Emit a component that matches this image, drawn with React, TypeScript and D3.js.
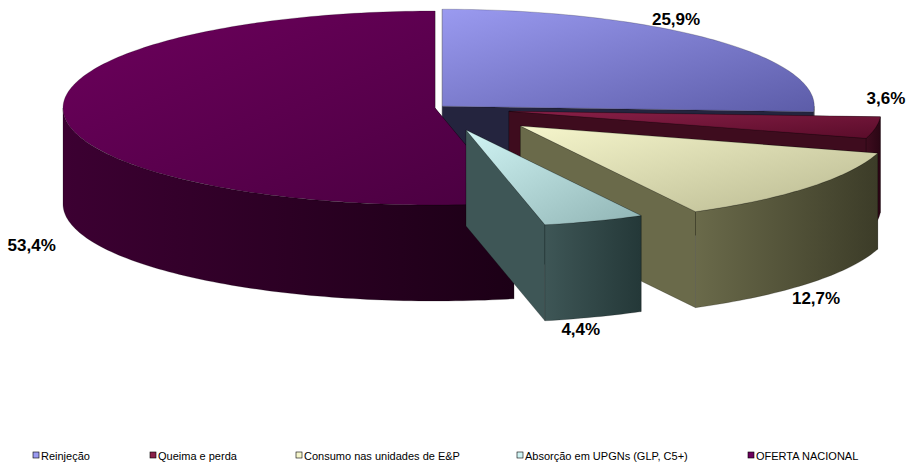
import React from 'react';
import * as d3 from 'd3';

const categories = ['Reinjeção', 'Queima e perda', 'Consumo nas unidades de E&P', 'Absorção em UPGNs (GLP, C5+)', 'OFERTA NACIONAL'];
const values = [25.9, 3.6, 12.7, 4.4, 53.4];
const labels = ['25,9%', '3,6%', '12,7%', '4,4%', '53,4%'];
const explode = [10, 75, 110, 90, 0];
const labelNudge = [[-42, -7], [3, -129], [1, 3], [-16, -6], [-26, 29]];
const topColors = [['#9a9af0', '#5c5ca8'], ['#8a2048', '#5a0c2a'], ['#f6f6cc', '#b8b890'], ['#d0f4f4', '#90b4b4'], ['#6c005c', '#4a0040']];
const wallColors = [['#24243e', '#1a1a30'], ['#3e0c1e', '#2a0614'], ['#6a6a4a', '#3c3c28'], ['#3e5656', '#243838'], ['#3c0032', '#1c0016']];
const legendX = [33, 150, 296, 517, 748];

const cx = 435, cy = 108, rx = 372, ry = 97, depth = 96;

export default function App() {
  const total = d3.sum(values);
  const angle = d3.scaleLinear().domain([0, total]).range([0, 2 * Math.PI]);
  let acc = 0;
  const slices = values.map((v, i) => {
    const a0 = angle(acc); acc += v; const a1 = angle(acc);
    const mid = (a0 + a1) / 2;
    const ox = explode[i] * Math.sin(mid);
    const oy = -explode[i] * Math.cos(mid) * ry / rx;
    return { i, a0, a1, mid, ox, oy };
  });
  const pt = (s: any, a: number, dy = 0): [number, number] => [cx + s.ox + rx * Math.sin(a), cy + s.oy - ry * Math.cos(a) + dy];
  const arcPath = (s: any, a0: number, a1: number, dy = 0) => {
    const n = Math.max(2, Math.ceil((a1 - a0) / 0.02));
    return d3.range(n + 1).map(k => pt(s, a0 + (a1 - a0) * k / n, dy));
  };
  const line = d3.line();
  const order = [...slices].sort((a, b) => pt(a, a.mid)[1] - pt(b, b.mid)[1]);

  return (
    <svg width={907} height={463} style={{ display: 'block', position: 'absolute', left: 0, top: 0 }}>
      <defs>
        {slices.map(s => (
          <React.Fragment key={s.i}>
            <linearGradient id={`t${s.i}`} x1="0" y1="0" x2="1" y2="1">
              <stop offset="0" stopColor={topColors[s.i][0]} />
              <stop offset="1" stopColor={topColors[s.i][1]} />
            </linearGradient>
            <linearGradient id={`w${s.i}`} x1="0" y1="0" x2="1" y2="0">
              <stop offset="0" stopColor={wallColors[s.i][0]} />
              <stop offset="1" stopColor={wallColors[s.i][1]} />
            </linearGradient>
          </React.Fragment>
        ))}
      </defs>
      {order.map(s => {
        const c: [number, number] = [cx + s.ox, cy + s.oy];
        const radial = (a: number) => line([c, pt(s, a), pt(s, a, depth), [c[0], c[1] + depth]])! + 'Z';
        const lo = Math.max(s.a0, Math.PI / 2), hi = Math.min(s.a1, 1.5 * Math.PI);
        const wall = lo < hi ? line([...arcPath(s, lo, hi), ...arcPath(s, lo, hi, depth).reverse()])! + 'Z' : null;
        const top = line([c, ...arcPath(s, s.a0, s.a1)])! + 'Z';
        return (
          <g key={s.i} stroke="#00000055" strokeWidth={0.6}>
            <path d={radial(s.a0)} fill={wallColors[s.i][1]} />
            <path d={radial(s.a1)} fill={wallColors[s.i][0]} />
            {wall && <path d={wall} fill={`url(#w${s.i})`} />}
            <path d={top} fill={`url(#t${s.i})`} />
          </g>
        );
      })}
      {slices.map(s => {
        const sn = Math.sin(s.mid), cs = Math.cos(s.mid);
        const x = cx + s.ox + rx * 1.02 * sn + labelNudge[s.i][0];
        const y = cy + s.oy - ry * 1.2 * cs + (cs < 0 ? depth : 0) + 6 + labelNudge[s.i][1];
        return (
          <text key={s.i} x={x} y={y} textAnchor="middle" fontFamily="Liberation Sans, Arial, sans-serif" fontWeight="bold" fontSize={17}>{labels[s.i]}</text>
        );
      })}
      {categories.map((c, i) => (
        <g key={c} transform={`translate(${legendX[i]},452)`}>
          <rect x={0} y={0} width={6} height={6} fill={topColors[i][0]} stroke="#000" strokeWidth={0.6} />
          <text x={8} y={7.5} fontFamily="Liberation Sans, Arial, sans-serif" fontSize={11}>{c}</text>
        </g>
      ))}
    </svg>
  );
}
